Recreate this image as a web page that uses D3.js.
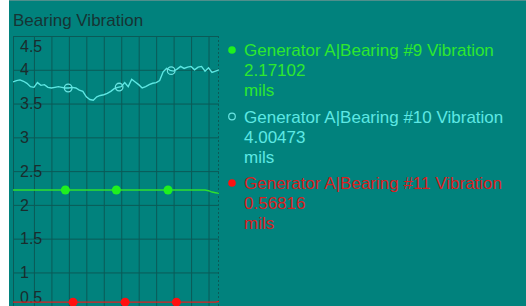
<!DOCTYPE html>
<html>
<head>
<meta charset="utf-8">
<script src="https://cdn.jsdelivr.net/npm/d3@7"></script>
<style>
  html, body { margin: 0; padding: 0; background: #ffffff; }
  svg { display: block; font-family: "Liberation Sans", Arial, sans-serif; }
</style>
</head>
<body>
<svg id="chart" width="526" height="306"></svg>
<script>
// ---------- data ----------
const chartTitle = "Bearing Vibration";
const times = d3.range(0, 60); // sample times (s)
const seriesNames = [
  "Generator A|Bearing #9 Vibration",
  "Generator A|Bearing #10 Vibration",
  "Generator A|Bearing #11 Vibration"
];
const currentValues = ["2.17102", "4.00473", "0.56816"];
const units = ["mils", "mils", "mils"];
const bearing9 = [
  2.22,2.22,2.22,2.22,2.22,2.22,2.22,2.22,2.22,2.22,
  2.22,2.22,2.22,2.22,2.22,2.22,2.22,2.22,2.22,2.22,
  2.22,2.22,2.22,2.22,2.22,2.22,2.22,2.22,2.22,2.22,
  2.22,2.22,2.22,2.22,2.22,2.22,2.22,2.22,2.22,2.22,
  2.22,2.22,2.22,2.22,2.22,2.22,2.22,2.22,2.22,2.22,
  2.22,2.22,2.22,2.22,2.22,2.22,2.21,2.19,2.18,2.17
];
const bearing10 = [
  3.82,3.84,3.85,3.83,3.80,3.75,3.74,3.81,3.77,3.78,
  3.74,3.73,3.74,3.75,3.74,3.73,3.73,3.74,3.73,3.70,
  3.68,3.60,3.56,3.55,3.60,3.62,3.63,3.65,3.68,3.72,
  3.74,3.75,3.81,3.75,3.86,3.82,3.78,3.73,3.75,3.78,
  3.80,3.81,3.84,3.97,4.02,3.99,3.98,4.01,4.05,4.02,
  4.04,4.05,4.00,4.04,4.05,3.98,4.03,3.96,3.98,4.00
];
const bearing11 = [
  0.56,0.56,0.56,0.56,0.56,0.56,0.56,0.56,0.56,0.56,
  0.56,0.56,0.56,0.56,0.56,0.56,0.56,0.56,0.56,0.56,
  0.56,0.56,0.56,0.56,0.56,0.56,0.56,0.56,0.56,0.56,
  0.56,0.56,0.56,0.56,0.56,0.56,0.56,0.56,0.56,0.56,
  0.56,0.56,0.56,0.56,0.56,0.56,0.56,0.56,0.56,0.56,
  0.56,0.56,0.56,0.56,0.56,0.56,0.56,0.56,0.56,0.57
];
const markerTimes9 = [15, 29.6, 44.4];
const markerTimes10 = [15.8, 30.4, 45.3];
const markerTimes11 = [17.2, 32.1, 46.8];
const yTicks = [0.5, 1, 1.5, 2, 2.5, 3, 3.5, 4, 4.5];
const xGridTimes = [6, 11, 16, 21, 26, 31, 36, 41, 46, 51, 56];

// ---------- layout ----------
const W = 526, H = 306;
const plot = { left: 13, right: 219, top: 36, bottom: 340 };
const svg = d3.select("#chart");

svg.append("rect").attr("x", 9).attr("y", 0).attr("width", W - 9).attr("height", H)
  .attr("fill", "#01827d");
svg.append("line").attr("x1", 9).attr("x2", W).attr("y1", 0.5).attr("y2", 0.5)
  .attr("stroke", "#4f8f8c").attr("stroke-width", 1);

svg.append("text").attr("x", 13).attr("y", 26).text(chartTitle)
  .attr("font-size", 17).attr("fill", "#163434");

const x = d3.scaleLinear().domain([0, 59]).range([plot.left, plot.right]);
const y = d3.scaleLinear().domain([0, 4.5]).range([plot.bottom, plot.top]);

const gridColor = "#0b5a57";

// horizontal grid
svg.append("g").attr("transform", `translate(${plot.left},0)`)
  .call(d3.axisLeft(y).tickValues(yTicks).tickSize(-(plot.right - plot.left)).tickFormat(""))
  .call(g => g.select(".domain").remove())
  .call(g => g.selectAll("line").attr("stroke", gridColor));

// vertical grid
svg.append("g").attr("transform", `translate(0,${plot.bottom})`)
  .call(d3.axisBottom(x).tickValues(xGridTimes).tickSize(-(plot.bottom - plot.top)).tickFormat(""))
  .call(g => g.select(".domain").remove())
  .call(g => g.selectAll("line").attr("stroke", gridColor));

// frame
svg.append("line").attr("x1", plot.left + 0.5).attr("x2", plot.left + 0.5)
  .attr("y1", plot.top).attr("y2", H).attr("stroke", gridColor);
svg.append("line").attr("x1", plot.left).attr("x2", plot.right)
  .attr("y1", plot.top + 0.5).attr("y2", plot.top + 0.5).attr("stroke", gridColor);
svg.append("line").attr("x1", plot.right - 0.5).attr("x2", plot.right - 0.5)
  .attr("y1", plot.top).attr("y2", H).attr("stroke", gridColor)
  .attr("stroke-dasharray", "2,2");

// y labels inside plot
const yAxis = svg.append("g").attr("transform", `translate(${plot.left},0)`)
  .call(d3.axisRight(y).tickValues(yTicks).tickSize(0).tickPadding(7).tickFormat(d3.format("")));
yAxis.select(".domain").remove();
yAxis.selectAll(".tick text")
  .attr("font-size", 16).attr("font-family", "\"Liberation Sans\", Arial, sans-serif")
  .attr("fill", "#1a2d2d")
  .attr("y", d => {
    const yy = y(d);
    const cl = Math.max(plot.top + 10, Math.min(H - 9, yy));
    return cl - yy;
  });

// clip
svg.append("clipPath").attr("id", "clip").append("rect")
  .attr("x", plot.left).attr("y", plot.top).attr("width", plot.right - plot.left).attr("height", plot.bottom - plot.top);

const series = [
  { data: bearing9, marks: markerTimes9, color: "#2fe02f", mark: "#1ff01f", open: false, text: "#2ee82e" },
  { data: bearing10, marks: markerTimes10, color: "#5ee6e2", mark: "#6ae4e2", open: true, text: "#5ee8e4" },
  { data: bearing11, marks: markerTimes11, color: "#e02020", mark: "#ff1010", open: false, text: "#d82020" }
];

function interp(data, t) {
  const i = Math.min(Math.floor(t), data.length - 2);
  const f = t - i;
  return data[i] * (1 - f) + data[i + 1] * f;
}

const lineGen = d3.line().x((d, i) => x(times[i])).y(d => y(d));
const plotG = svg.append("g").attr("clip-path", "url(#clip)");
series.forEach(s => {
  plotG.append("path").datum(s.data).attr("d", lineGen)
    .attr("fill", "none").attr("stroke", s.color).attr("stroke-width", 1.4);
});
series.forEach(s => {
  plotG.selectAll(null).data(s.marks).enter().append("circle")
    .attr("cx", t => x(t)).attr("cy", t => y(interp(s.data, t)))
    .attr("r", s.open ? 3.8 : 4.5)
    .attr("fill", s.open ? "none" : s.mark)
    .attr("stroke", s.open ? s.mark : "none")
    .attr("stroke-width", 1.3);
});

// legend
const legendTop = 50, entryGap = 66.5, lineGap = 20;
series.forEach((s, i) => {
  const cy = legendTop + i * entryGap;
  svg.append("circle").attr("cx", 232).attr("cy", cy)
    .attr("r", s.open ? 3.3 : 3.8)
    .attr("fill", s.open ? "none" : s.mark)
    .attr("stroke", s.open ? s.mark : "none").attr("stroke-width", 1.2);
  const lines = [seriesNames[i], currentValues[i], units[i]];
  lines.forEach((txt, j) => {
    svg.append("text").attr("x", 244).attr("y", cy + j * lineGap).attr("dy", "0.36em")
      .attr("font-size", 17).attr("fill", s.text).text(txt);
  });
});
</script>
</body>
</html>
